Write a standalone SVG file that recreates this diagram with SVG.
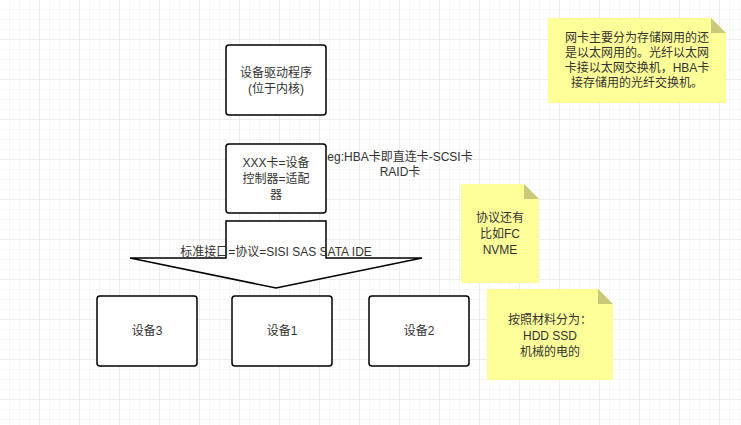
<svg xmlns="http://www.w3.org/2000/svg" width="741" height="425" viewBox="0 0 741 425">
<defs>
<pattern id="g" width="10" height="10" patternUnits="userSpaceOnUse"><path d="M10 0V10H0" fill="none" stroke="#efefef" stroke-width="1"/></pattern>
<pattern id="G" width="40" height="40" patternUnits="userSpaceOnUse"><rect width="40" height="40" fill="url(#g)"/><path d="M40 0V40H0" fill="none" stroke="#e2e2e2" stroke-width="1"/></pattern>
</defs>
<style>
text{font-family:"Liberation Sans","Noto Sans CJK SC",sans-serif;font-size:12px;fill:#333;text-anchor:middle}
.b{fill:#fff;stroke:#000;stroke-width:1.5}
.n{fill:#ffff99;stroke:none}
.f{fill:#c9c979}
</style>
<rect width="741" height="425" fill="#fff"/>
<rect width="741" height="425" fill="url(#G)"/>
<g id="driver"><rect class="b" x="226" y="45" width="100" height="70" rx="3"/><text x="276" y="77">设备驱动程序</text><text x="276" y="93">(位于内核)</text></g>
<g id="card"><rect class="b" x="226" y="144" width="100" height="69" rx="3"/><text x="276" y="167">XXX卡=设备</text><text x="276" y="183">控制器=适配</text><text x="276" y="199">器</text></g>
<g id="connectors"><path class="b" d="M226 221H326V258H422L276 288L130 258H226Z"/></g>
<text x="276" y="256">标准接口=协议=SISI SAS SATA IDE</text>
<text x="400" y="161">eg:HBA卡即直连卡-SCSI卡</text>
<text x="400" y="176">RAID卡</text>
<g id="d3"><rect class="b" x="97" y="296" width="100" height="70" rx="3"/><text x="147" y="335">设备3</text></g>
<g id="d1"><rect class="b" x="232" y="296" width="100" height="70" rx="3"/><text x="282" y="335">设备1</text></g>
<g id="d2"><rect class="b" x="369" y="296" width="100" height="70" rx="3"/><text x="419" y="335">设备2</text></g>
<g id="note1"><path class="n" d="M548 18H711L726 33V103H548Z"/><path class="f" d="M711 18L726 33H711Z"/><text x="637" y="42">网卡主要分为存储网用的还</text><text x="637" y="57">是以太网用的。光纤以太网</text><text x="637" y="72">卡接以太网交换机，HBA卡</text><text x="637" y="87">接存储用的光纤交换机。</text></g>
<g id="note2"><path class="n" d="M461 184H524L539 199V283H461Z"/><path class="f" d="M524 184L539 199H524Z"/><text x="500" y="222">协议还有</text><text x="500" y="238">比如FC</text><text x="500" y="254">NVME</text></g>
<g id="note3"><path class="n" d="M487 289H598L613 304V380H487Z"/><path class="f" d="M598 289L613 304H598Z"/><text x="550" y="324">按照材料分为：</text><text x="550" y="340">HDD SSD</text><text x="550" y="356">机械的电的</text></g>
</svg>
